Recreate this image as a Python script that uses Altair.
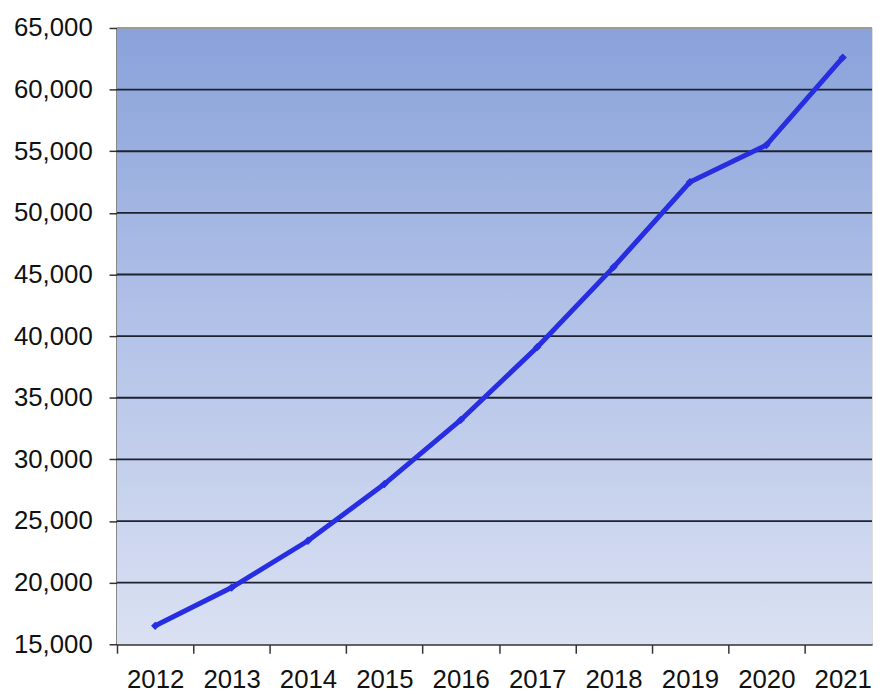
import altair as alt
import pandas as pd

years = [2012, 2013, 2014, 2015, 2016, 2017, 2018, 2019, 2020, 2021]
values = [16500, 19600, 23400, 28000, 33200, 39100, 45600, 52500, 55500, 62600]
y_ticks = [15000, 20000, 25000, 30000, 35000, 40000, 45000, 50000, 55000, 60000, 65000]
grid_vals = [20000, 25000, 30000, 35000, 40000, 45000, 50000, 55000, 60000]

df = pd.DataFrame({"year": years, "value": values})

W = 762
H = 622
band = 77.1
x_domain = [2011.5, 2011.5 + W / band]
y_scale = alt.Scale(domain=[15000, 65000], nice=False, zero=False)

bg = alt.Chart(pd.DataFrame({"a": [0]})).mark_rect(
    color=alt.LinearGradient(
        gradient="linear",
        x1=0, x2=0, y1=0, y2=1,
        stops=[
            alt.GradientStop(color="#89a2da", offset=0),
            alt.GradientStop(color="#b4c3e8", offset=0.5),
            alt.GradientStop(color="#dae1f2", offset=1),
        ],
    )
).encode(
    x=alt.value(0), x2=alt.value(W), y=alt.value(0), y2=alt.value(H)
)

top_border = alt.Chart(pd.DataFrame({"v": [65000]})).mark_rule(
    color="#9a9a9a", strokeWidth=2
).encode(
    y=alt.Y("v:Q", scale=y_scale), x=alt.value(0), x2=alt.value(W)
)

grid = alt.Chart(pd.DataFrame({"v": grid_vals})).mark_rule(
    color="#1c2230", strokeWidth=1.8
).encode(
    y=alt.Y("v:Q", scale=y_scale), x=alt.value(0), x2=alt.value(W)
)

line = alt.Chart(df).mark_line(
    color="#272de0", strokeWidth=5,
    point=alt.OverlayMarkDef(color="#272de0", size=70, shape="diamond", filled=True),
).encode(
    x=alt.X(
        "year:Q",
        scale=alt.Scale(domain=x_domain, nice=False, zero=False),
        axis=alt.Axis(
            values=years, format="d", title=None, grid=False,
            tickOffset=-band / 2, labelOffset=band / 2,
            tickSize=9, tickColor="#333333", tickWidth=1.5,
            labelPadding=14, labelFontSize=26, labelFont="Liberation Sans",
            labelColor="#111111", domainColor="#333333", domainWidth=2,
            labelFlush=False, labelOverlap=False,
        ),
    ),
    y=alt.Y(
        "value:Q",
        scale=y_scale,
        axis=alt.Axis(
            values=y_ticks, format=",d", title=None, grid=False,
            tickSize=8, tickColor="#333333", tickWidth=1.5,
            labelPadding=17, labelFontSize=26, labelFont="Liberation Sans",
            labelColor="#111111", domainColor="#111111", domainWidth=2,
            labelOverlap=False,
        ),
    ),
)

chart = alt.layer(bg, top_border, grid, line).properties(
    width=W, height=H,
    padding={"left": 110, "top": 17, "right": 2, "bottom": 45},
    autosize=alt.AutoSizeParams(type="none"),
).configure_view(stroke=None).configure(background="white")

chart.save("out.html", embed_options={"renderer": "svg", "actions": False})
